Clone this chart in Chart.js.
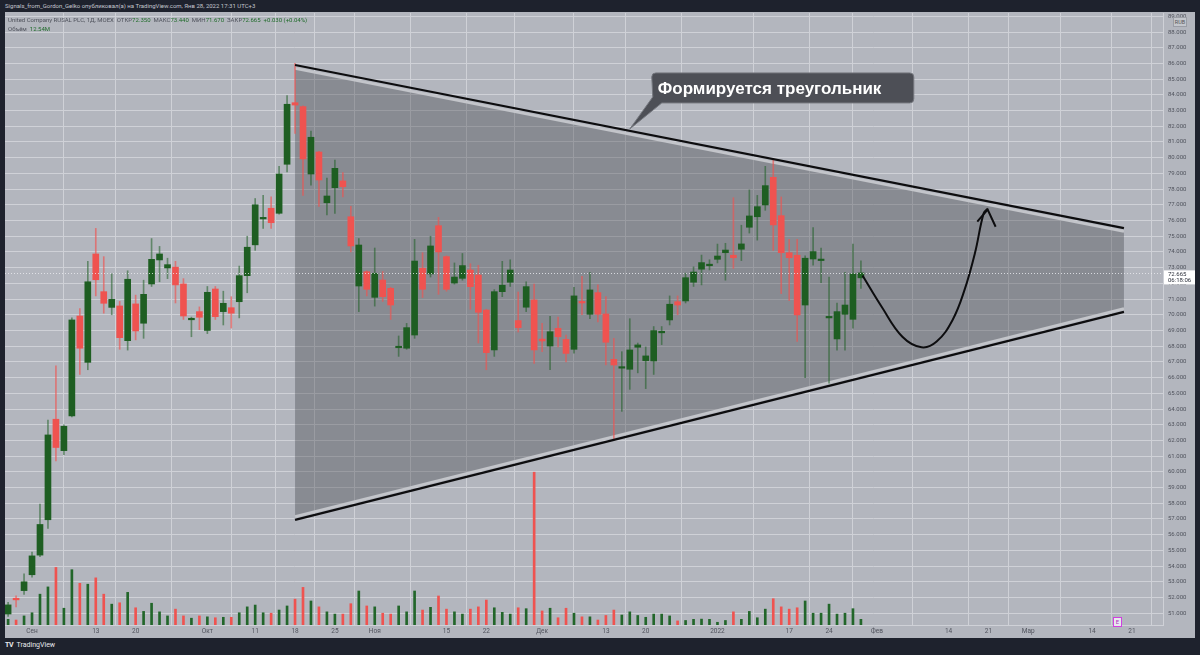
<!DOCTYPE html>
<html><head><meta charset="utf-8">
<script src="https://cdn.jsdelivr.net/npm/chart.js@4/dist/chart.umd.min.js"></script>
<style>
html,body{margin:0;padding:0;background:#1e222d;width:1200px;height:655px;overflow:hidden;font-family:Roboto,"Liberation Sans",sans-serif}
#hdr{position:absolute;left:5px;top:0;height:12px;line-height:12px;font-size:6px;color:#c3c6cd;white-space:nowrap}
#wrap{position:absolute;left:5px;top:12px;width:1190px;height:626px;background:#b3b6be}
canvas{position:absolute;left:0;top:0}
.leg{position:absolute;left:3px;font-size:6px;color:#4f525c;white-space:nowrap}
.leg b{font-weight:normal;color:#1f6b2a}
#rub{position:absolute;left:1168px;top:5px;width:12px;height:8px;border:1px solid #9a9da5;background:#c3c6cc;font-size:5.5px;line-height:8px;text-align:center;color:#555}
#ev{position:absolute;left:1108px;top:605px;width:7px;height:8px;border:1px solid #d040e0;background:#e8e8ee;font-size:6px;line-height:8px;text-align:center;color:#b030c0}
#foot{position:absolute;left:5px;top:641px;font-size:7px;color:#e8e9ec;white-space:nowrap}
#foot span{font-weight:bold;letter-spacing:-0.5px;margin-right:2px}
</style></head>
<body>
<div id="hdr">Signals_from_Gordon_Gelko опубликовал(а) на TradingView.com, Янв 28, 2022 17:31 UTC+3</div>
<div id="wrap">
<canvas id="c" width="1190" height="626"></canvas>
<div class="leg" style="top:4px">United Company RUSAL PLC, 1Д, MOEX &nbsp;ОТКР<b>72.350</b> &nbsp;МАКС<b>73.440</b> &nbsp;МИН<b>71.670</b> &nbsp;ЗАКР<b>72.665</b> &nbsp;<b>+0.030 (+0.04%)</b></div>
<div class="leg" style="top:13px">Объём &nbsp;<b>12.54M</b></div>
<div id="rub">RUB</div>
<div id="ev">E</div>
</div>
<div id="foot"><span>TV</span> TradingView</div>
<script>
// ---- data (bar index 0 = 27 Aug 2021 ... 107 = 28 Jan 2022) ----
const open = [50.95,51.95,52.44,53.45,54.7,56.95,63.35,61.35,63.56,69.92,66.97,73.87,71.47,70.47,70.56,68.35,70.69,69.46,71.96,73.49,
72.98,73.03,71.96,69.68,70.2,69.0,71.64,70.2,70.45,70.83,72.49,74.45,76.1,76.78,76.46,79.58,83.5,83.25,78.96,80.36,
77.13,78.09,78.52,76.24,71.83,72.74,71.11,72.21,71.68,67.9,67.87,68.71,72.96,72.6,75.67,73.7,72.02,72.32,72.85,72.53,
70.3,67.76,71.47,72.07,69.63,70.48,70.94,68.45,68.01,69.14,68.43,67.8,70.85,70.03,71.41,70.05,67.16,66.6,66.53,67.93,
67.08,67.06,68.85,69.67,70.83,70.88,72.07,72.9,73.12,73.53,73.95,73.79,74.17,75.57,76.24,76.99,78.75,76.31,73.95,73.79,
70.62,73.55,73.45,69.8,68.46,70.03,69.71,72.35];
const high = [51.7,52.1,53.5,54.9,57.95,63.3,66.75,63.0,69.8,70.4,73.4,75.5,73.7,72.6,70.85,72.8,71.25,72.2,74.85,74.35,
73.6,73.4,72.3,69.85,70.5,71.8,71.8,71.5,71.15,73.1,75.0,77.4,77.6,77.5,79.45,83.95,86.0,83.3,81.7,80.4,
78.7,79.85,79.05,76.9,74.85,72.8,74.25,72.75,71.75,68.65,69.45,74.8,73.95,75.0,76.2,73.75,73.3,73.9,73.25,73.15,
70.35,71.6,73.4,73.5,71.45,72.1,71.95,69.45,69.9,69.85,68.7,71.75,72.45,72.7,71.9,71.15,68.5,67.65,69.75,68.2,
67.95,69.25,69.25,71.2,71.2,72.65,73.05,73.8,73.5,74.5,74.55,77.45,75.7,77.95,77.6,79.45,79.95,77.5,74.8,74.8,
73.75,75.55,74.25,72.4,70.75,72.7,74.5,73.44];
const low = [50.8,51.4,52.2,53.3,54.6,56.4,60.7,61.1,63.5,66.2,66.5,71.2,70.1,70.0,67.8,67.75,68.4,68.5,71.8,72.1,
72.3,70.75,69.7,68.6,69.05,68.8,69.7,69.35,69.15,69.8,71.4,74.1,75.5,75.5,76.4,79.1,81.55,77.6,78.25,76.9,
76.35,76.45,77.5,74.0,70.2,71.2,70.55,70.85,69.7,67.35,67.8,68.5,71.1,72.4,71.3,71.5,71.95,72.2,70.35,68.2,
66.5,67.35,71.15,71.8,68.9,70.2,66.9,67.65,66.5,67.95,67.0,67.55,70.0,69.75,69.55,66.8,62.05,63.85,65.25,66.3,
65.3,66.2,68.1,69.35,70.0,70.75,71.8,71.9,72.85,73.3,72.2,72.95,73.45,75.2,74.75,76.65,74.1,71.35,70.9,68.3,
66.0,73.15,72.05,65.65,67.75,67.75,69.15,71.67];
const close = [51.53,51.85,53.0,54.65,56.65,62.35,61.55,62.9,69.67,67.87,72.1,72.23,70.73,70.98,68.54,72.26,68.97,71.3,73.53,73.87,
73.19,71.9,69.92,69.74,69.84,71.43,69.88,70.73,70.1,72.49,74.3,77.0,76.2,75.86,78.96,83.4,83.35,79.92,81.3,78.58,
77.56,79.32,78.15,74.38,74.44,71.62,72.64,71.15,70.62,67.97,69.18,73.42,71.62,74.38,74.0,71.62,72.4,73.13,71.79,70.16,
67.59,71.47,71.88,72.85,69.18,71.79,67.76,68.33,68.92,68.6,67.54,71.2,70.75,71.58,70.03,68.25,66.8,66.67,67.76,68.08,
67.38,68.99,68.92,70.67,70.62,72.36,72.72,73.32,73.22,73.74,74.12,73.63,74.51,76.29,76.88,78.22,75.72,73.95,73.63,69.99,
73.6,74.02,73.52,69.88,70.2,70.62,72.6,72.665];
const volume = [12.5,11,20,27,68,84,127,37,122,92,90,104,68,46,49,72,38,30,48,29,
20,35,20,15,20,18,16,17,17,27,40,44,27,26,33,42,57,83,53,40,
29,24,24,47,75,42,40,26,24,42,29,75,33,39,64,35,29,24,35,40,
55,38,28,24,38,36,337,31,37,16,37,26,18,18,11,21,33,22,29,21,
17,24,24,20,9,10,12.5,13,12.5,6,10,29,12.5,30,16,35,58,40,35,38,
53,26,26,46,24,26,36,12.54];
// time axis ticks (bar index -> label)
const tickIdx = [3,11,16,25,31,36,41,46,55,60,67,75,80,89,98,103,109,118,123,128,136,141];
const tickLabels = ['Сен','13','20','Окт','11','18','25','Ноя','15','22','Дек','13','20','2022','17','24','Фев','14','21','Мар','14','21'];
const priceTicks = [51,52,53,54,55,56,57,58,59,60,61,62,63,64,65,66,67,68,69,70,71,72,73,74,75,76,77,78,79,80,81,82,83,84,85,86,87,88,89];
// drawing: triangle trend lines (bar index, price)
const trendUpperX = [36,140], trendUpperY = [85.9,75.52];
const trendLowerX = [36,140], trendLowerY = [56.94,70.18];
const zoneUpperY = [85.68,75.3], zoneLowerY = [57.16,70.4];
// forecast curve
const curveX = [107.2,109.6,112.2,114.6,116.5,118.5,120.0,121.3,122.4,122.9];
const curveY = [72.5,70.51,68.6,67.93,68.29,69.67,71.58,73.91,76.46,76.75];
const headX = [121.6,122.9,123.9], headY = [75.93,76.7,75.6];
const noteText = 'Формируется треугольник';
const noteAnchor = {x:78, y:81.83};
const lastPrice = 72.665, lastTimer = '06:18:06';

const GREEN='#1e5e22', RED='#ef5350';
const up = i => close[i] >= open[i];
const pts = (xs,ys)=>xs.map((x,i)=>({x:x,y:ys[i]}));
const idx = open.map((_,i)=>i);

const overlay = {
  id:'overlay',
  afterDatasetsDraw(chart){
    const {ctx, chartArea:a, scales} = chart;
    const y = scales.y.getPixelForValue(lastPrice);
    ctx.save();
    ctx.strokeStyle='rgba(235,236,240,0.8)'; ctx.lineWidth=1; ctx.setLineDash([1,2]);
    ctx.beginPath(); ctx.moveTo(a.left, Math.round(y)+0.5); ctx.lineTo(a.right, Math.round(y)+0.5); ctx.stroke();
    ctx.restore();
  },
  afterDraw(chart){
    const {ctx, chartArea:a, scales} = chart;
    const y = scales.y.getPixelForValue(lastPrice);
    ctx.save();
    ctx.fillStyle='#ffffff';
    ctx.fillRect(a.right+1, y-2.5, 31, 14);
    ctx.fillStyle='#2a2e39'; ctx.font='6px Roboto'; ctx.textBaseline='middle'; ctx.textAlign='left';
    ctx.fillText(lastPrice.toFixed(3), a.right+5, y+1.3);
    ctx.fillText(lastTimer, a.right+5, y+7.8);
    // callout
    const tx = scales.x.getPixelForValue(noteAnchor.x), ty = scales.y.getPixelForValue(noteAnchor.y);
    const bx = tx+22, by = ty-56, bw = 262, bh = 30, r = 4;
    ctx.fillStyle='#4d4f56'; ctx.strokeStyle='#74777e'; ctx.lineWidth=1;
    ctx.beginPath();
    ctx.moveTo(bx+r,by); ctx.lineTo(bx+bw-r,by); ctx.quadraticCurveTo(bx+bw,by,bx+bw,by+r);
    ctx.lineTo(bx+bw,by+bh-r); ctx.quadraticCurveTo(bx+bw,by+bh,bx+bw-r,by+bh);
    ctx.lineTo(bx+10,by+bh); ctx.lineTo(tx,ty); ctx.lineTo(bx+1,by+bh-6);
    ctx.lineTo(bx,by+r); ctx.quadraticCurveTo(bx,by,bx+r,by);
    ctx.closePath(); ctx.fill(); ctx.stroke();
    ctx.fillStyle='#ffffff'; ctx.font='bold 17px "Liberation Sans"'; ctx.textBaseline='middle'; ctx.textAlign='left';
    ctx.fillText(noteText, bx+6, by+bh/2+1);
    ctx.restore();
  }
};

const noPad = s => { s.paddingTop = 0; s.paddingBottom = 0; s.paddingLeft = 0; s.paddingRight = 0; };

new Chart(document.getElementById('c'), {
  type:'bar',
  data:{datasets:[
    {type:'line', label:'zoneU', data:pts(trendUpperX,zoneUpperY), fill:'+1', backgroundColor:'rgba(62,64,70,0.36)', borderColor:'#c3c5ca', borderWidth:2.5, pointRadius:0, order:10},
    {type:'line', label:'zoneL', data:pts(trendLowerX,zoneLowerY), fill:false, borderColor:'#c3c5ca', borderWidth:2.5, pointRadius:0, order:9},
    {type:'bar', label:'vol', yAxisID:'yv', data:idx.map(i=>({x:i,y:volume[i]})), backgroundColor:idx.map(i=>up(i)?'#22662a':'#ef5350'), barThickness:2, grouped:false, order:8},
    {type:'bar', label:'wick', data:idx.map(i=>({x:i,y:[low[i],high[i]]})), backgroundColor:idx.map(i=>up(i)?'rgba(30,94,34,0.55)':'rgba(239,83,80,0.65)'), barThickness:1, grouped:false, order:7},
    {type:'bar', label:'body', data:idx.map(i=>({x:i,y:[open[i],close[i]]})), backgroundColor:idx.map(i=>up(i)?GREEN:RED), barThickness:6, minBarLength:1.5, grouped:false, order:6},
    {type:'line', label:'tu', data:pts(trendUpperX,trendUpperY), borderColor:'#0d0d0f', borderWidth:2.2, pointRadius:0, fill:false, order:2},
    {type:'line', label:'tl', data:pts(trendLowerX,trendLowerY), borderColor:'#0d0d0f', borderWidth:2.2, pointRadius:0, fill:false, order:2},
    {type:'line', label:'curve', data:pts(curveX,curveY), borderColor:'#0d0d0f', borderWidth:2, pointRadius:0, fill:false, tension:0.4, order:1},
    {type:'line', label:'head', data:pts(headX,headY), borderColor:'#0d0d0f', borderWidth:2, pointRadius:0, fill:false, tension:0, order:1}
  ]},
  options:{
    responsive:false, animation:false, devicePixelRatio:1, events:[],
    layout:{padding:{top:1,left:0,right:0,bottom:0}},
    plugins:{legend:{display:false}, tooltip:{enabled:false}},
    scales:{
      x:{type:'linear', min:-0.39, max:144.9, offset:false,
        afterBuildTicks:s=>{s.ticks = tickIdx.map(v=>({value:v}));},
        afterFit:s=>{s.height=13; noPad(s);},
        ticks:{autoSkip:false, maxRotation:0, padding:2, color:'#50535d', font:{family:'Roboto', size:6.5},
          callback:v=>{const k=tickIdx.indexOf(v); return k>=0?tickLabels[k]:'';}},
        grid:{color:'#cfd1d7', drawTicks:false, lineWidth:1},
        border:{display:true, color:'#cfd1d7'}},
      y:{type:'linear', position:'right', min:50.25, max:89.21,
        afterBuildTicks:s=>{s.ticks = priceTicks.map(v=>({value:v}));},
        afterFit:s=>{s.width=32; noPad(s);},
        ticks:{padding:5, color:'#50535d', font:{family:'Roboto', size:6}, callback:v=>Number(v).toFixed(3)},
        grid:{color:'#cfd1d7', drawTicks:false, lineWidth:1},
        border:{display:true, color:'#cfd1d7'}},
      yv:{type:'linear', display:false, min:0, max:1350}
    }
  },
  plugins:[overlay]
});
</script>
</body></html>
